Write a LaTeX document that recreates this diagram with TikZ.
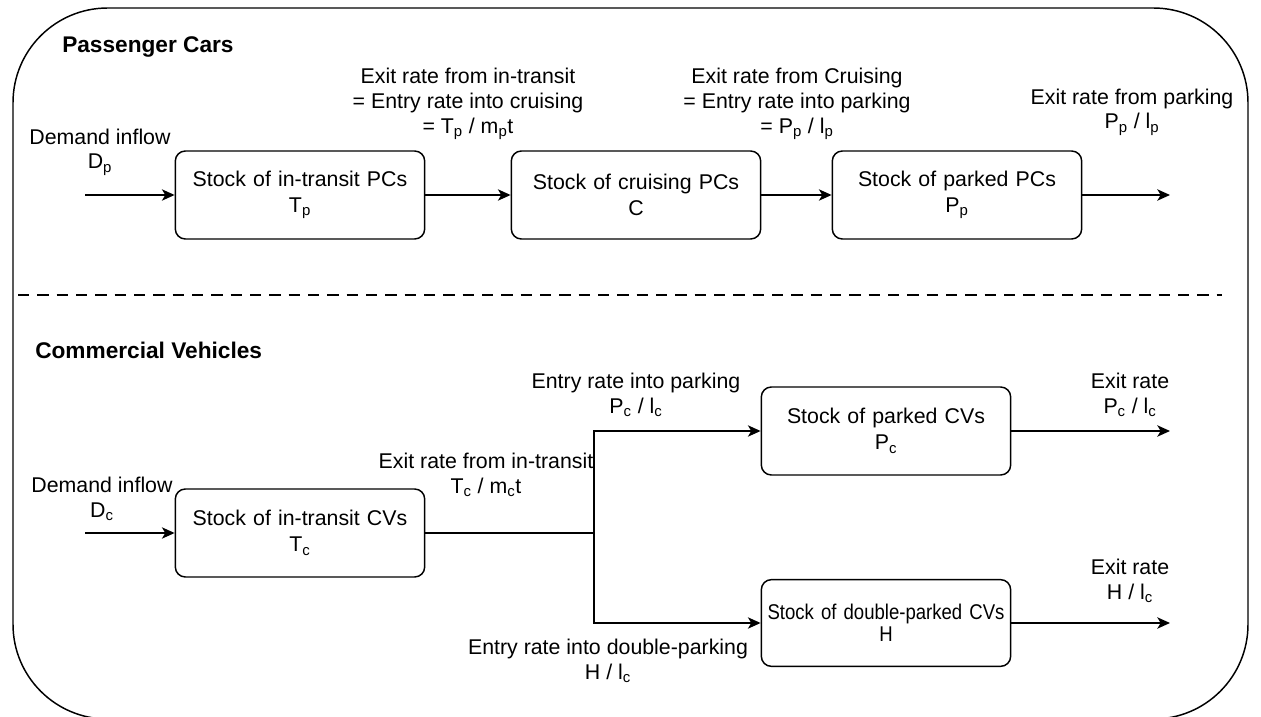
\documentclass[tikz,border=0pt]{standalone}
\usepackage{fontspec}
\setmainfont{Liberation Sans}
\newfontfamily\narrowsans[FakeStretch=0.87]{Liberation Sans}
\usetikzlibrary{arrows.meta}
\tikzset{
  stock/.style={draw, line width=1.1pt, rounded corners=7.5pt, minimum width=187pt,
    minimum height=66pt, text width=180pt, align=center, font=\fontsize{16pt}{19.5pt}\selectfont},
  rate/.style={align=center, inner sep=0pt, font=\fontsize{16pt}{18.5pt}\selectfont},
  heading/.style={anchor=west, inner sep=0pt, font=\fontsize{17pt}{20pt}\selectfont\bfseries},
  flow/.style={line width=1.1pt, -{Stealth[length=9.5pt,width=8.5pt,inset=2.5pt]}},
  pipe/.style={line width=1.1pt}
}
\newcommand{\sub}[1]{\textsubscript{#1}}
\begin{document}
\begin{tikzpicture}[x=0.75pt,y=-0.75pt]
\useasboundingbox (0,0) rectangle (1261,717);
% frame and split
\draw[line width=1.1pt, rounded corners=71pt] (13,8) rectangle (1248,719);
\coordinate (sepL) at (18,295);
\coordinate (sepR) at (1222,295);
\draw[line width=2.2pt, dash pattern=on 8.5pt off 6pt] (sepL) -- (sepR);
\node[heading] (pctitle) at (62,47) {Passenger Cars};
\node[heading] (cvtitle) at (35,350) {Commercial Vehicles};

% passenger cars
\node[stock] (tp) at (300,195) {Stock of in-transit PCs\\T\sub{p}};
\node[stock] (cr) at (636,195) {Stock of cruising PCs\\C};
\node[stock] (pp) at (957,195) {Stock of parked PCs\\P\sub{p}};
\coordinate (dpin) at (85,195);
\coordinate (ppout) at (1170,195);
\draw[flow] (dpin) -- (tp);
\draw[flow] (tp) -- (cr);
\draw[flow] (cr) -- (pp);
\draw[flow] (pp) -- (ppout);
\node[rate] (ldp) at (100,152) {Demand inflow\\D\sub{p}};
\node[rate] (ltp) at (468,104) {Exit rate from in-transit\\= Entry rate into cruising\\= T\sub{p} / m\sub{p}t};
\node[rate] (lcr) at (797,104) {Exit rate from Cruising\\= Entry rate into parking\\= P\sub{p} / l\sub{p}};
\node[rate] (lpp) at (1132,112) {Exit rate from parking\\P\sub{p} / l\sub{p}};

% commercial vehicles
\node[stock] (tc) at (300,533) {Stock of in-transit CVs\\T\sub{c}};
\node[stock] (pc) at (886,431) {Stock of parked CVs\\P\sub{c}};
\node[stock, minimum height=65pt] (hc) at (886,623) {\narrowsans Stock of double-parked CVs\\[-3pt]H};
\coordinate (dcin) at (85,533);
\coordinate (split) at (594,533);
\coordinate (pcout) at (1170,431);
\coordinate (hcout) at (1170,623);
\draw[flow] (dcin) -- (tc);
\draw[pipe] (tc) -- (split);
\draw[flow] (split) |- (pc);
\draw[flow] (split) |- (hc);
\draw[flow] (pc) -- (pcout);
\draw[flow] (hc) -- (hcout);
\node[rate] (ldc) at (102,499) {Demand inflow\\D\sub{c}};
\node[rate] (ltc) at (486,475) {Exit rate from in-transit\\T\sub{c} / m\sub{c}t};
\node[rate] (lpc) at (636,395) {Entry rate into parking\\P\sub{c} / l\sub{c}};
\node[rate] (lhc) at (608,661) {Entry rate into double-parking\\H / l\sub{c}};
\node[rate] (xpc) at (1130,395) {Exit rate\\P\sub{c} / l\sub{c}};
\node[rate] (xhc) at (1130,581) {Exit rate\\H / l\sub{c}};
\end{tikzpicture}
\end{document}
